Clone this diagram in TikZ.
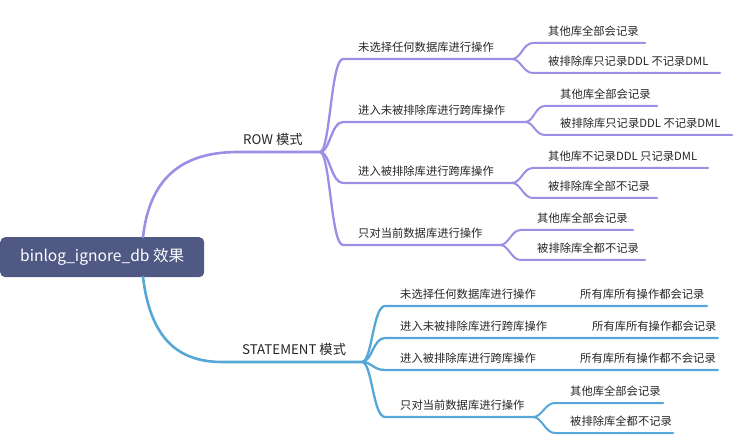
\documentclass[tikz,border=0pt]{standalone}
\usepackage{fontspec}
\setmainfont{Noto Sans CJK SC}
\definecolor{rowc}{RGB}{156,142,228}
\definecolor{stc}{RGB}{86,166,216}
\definecolor{rootc}{RGB}{80,89,132}
\definecolor{txt}{RGB}{38,38,38}
\begin{document}
\begin{tikzpicture}[x=1pt,y=-1pt,
  lone/.style={line width=2.6pt,line cap=round},
  ltwo/.style={line width=2.3pt,line cap=round},
  lthree/.style={line width=2pt,line cap=round},
  lbl/.style={anchor=base west,inner sep=0pt,text=txt,font=\fontsize{11.3}{13}\selectfont},
  big/.style={anchor=base west,inner sep=0pt,text=txt,font=\fontsize{13.3}{15}\selectfont}]
\useasboundingbox (0,0) rectangle (744,443);
% root
\node[fill=rootc,rounded corners=5pt,minimum width=204pt,minimum height=40pt,inner sep=0pt,text=white,font=\fontsize{15.6}{17}\selectfont,anchor=north west] (root) at (0,237) {binlog\_ignore\_db 效果};
\coordinate (rt) at (143,237);
\coordinate (rb) at (143,277);
% ROW
\coordinate (rowS) at (238,152); \coordinate (rowE) at (320,152);
\node[big] (rowT) at (243,145) {ROW 模式};
\draw[rowc,lone] (rt) .. controls (150,175) and (185,152) .. (rowS) -- (rowE);
% ROW level 2
\coordinate (a1S) at (343,59);  \coordinate (a1E) at (512,59);
\coordinate (a2S) at (343,122); \coordinate (a2E) at (525,122);
\coordinate (a3S) at (343,183); \coordinate (a3E) at (512,183);
\coordinate (a4S) at (343,245); \coordinate (a4E) at (500,245);
\node[lbl] (a1T) at (358,51.5) {未选择任何数据库进行操作};
\node[lbl] (a2T) at (358,114.5) {进入未被排除库进行跨库操作};
\node[lbl] (a3T) at (358,175.5) {进入被排除库进行跨库操作};
\node[lbl] (a4T) at (358,237.5) {只对当前数据库进行操作};
\foreach \i in {1,2,3,4}{
  \draw[rowc,ltwo] (rowE) .. controls +(10,0) and +(-12,0) .. (a\i S) -- (a\i E);
}
% ROW level 3
\coordinate (b1S) at (533,43);  \coordinate (b1E) at (645,43);
\coordinate (b2S) at (533,73);  \coordinate (b2E) at (720,73);
\coordinate (b3S) at (545,106); \coordinate (b3E) at (657,106);
\coordinate (b4S) at (545,135); \coordinate (b4E) at (732,135);
\coordinate (b5S) at (533,168); \coordinate (b5E) at (708,168);
\coordinate (b6S) at (533,198); \coordinate (b6E) at (657,198);
\coordinate (b7S) at (521,230); \coordinate (b7E) at (633,230);
\coordinate (b8S) at (521,260); \coordinate (b8E) at (645,260);
\node[lbl] (b1T) at (548,35.5) {其他库全部会记录};
\node[lbl] (b2T) at (548,65.5) {被排除库只记录DDL 不记录DML};
\node[lbl] (b3T) at (560,98.5) {其他库全部会记录};
\node[lbl] (b4T) at (560,127.5) {被排除库只记录DDL 不记录DML};
\node[lbl] (b5T) at (548,160.5) {其他库不记录DDL 只记录DML};
\node[lbl] (b6T) at (548,190.5) {被排除库全部不记录};
\node[lbl] (b7T) at (537,222.5) {其他库全部会记录};
\node[lbl] (b8T) at (537,252.5) {被排除库全都不记录};
\foreach \p/\c in {a1/b1,a1/b2,a2/b3,a2/b4,a3/b5,a3/b6,a4/b7,a4/b8}{
  \draw[rowc,lthree] (\p E) .. controls +(9,0) and +(-10,0) .. (\c S) -- (\c E);
}
% STATEMENT
\coordinate (stS) at (222,362); \coordinate (stE) at (362,362);
\node[big] (stT) at (242,355) {STATEMENT 模式};
\draw[stc,lone] (rb) .. controls (150,335) and (175,362) .. (stS) -- (stE);
\coordinate (c1S) at (385,306); \coordinate (c1E) at (707,306);
\coordinate (c2S) at (385,338); \coordinate (c2E) at (718,338);
\coordinate (c3S) at (385,370); \coordinate (c3E) at (718,370);
\coordinate (c4S) at (385,417); \coordinate (c4E) at (533,417);
\node[lbl] (c1T) at (400,298.5) {未选择任何数据库进行操作};
\node[lbl] (c2T) at (400,330.5) {进入未被排除库进行跨库操作};
\node[lbl] (c3T) at (400,362.5) {进入被排除库进行跨库操作};
\node[lbl] (c4T) at (400,409.5) {只对当前数据库进行操作};
\node[lbl] (c1R) at (580,298.5) {所有库所有操作都会记录};
\node[lbl] (c2R) at (592,330.5) {所有库所有操作都会记录};
\node[lbl] (c3R) at (580,362.5) {所有库所有操作都不会记录};
\foreach \i in {1,2,3,4}{
  \draw[stc,ltwo] (stE) .. controls +(10,0) and +(-12,0) .. (c\i S) -- (c\i E);
}
\coordinate (d1S) at (555,403); \coordinate (d1E) at (663,403);
\coordinate (d2S) at (555,433); \coordinate (d2E) at (673,433);
\node[lbl] (d1T) at (570,395.5) {其他库全部会记录};
\node[lbl] (d2T) at (570,425.5) {被排除库全都不记录};
\foreach \c in {d1,d2}{
  \draw[stc,lthree] (c4E) .. controls +(9,0) and +(-10,0) .. (\c S) -- (\c E);
}
\end{tikzpicture}
\end{document}
